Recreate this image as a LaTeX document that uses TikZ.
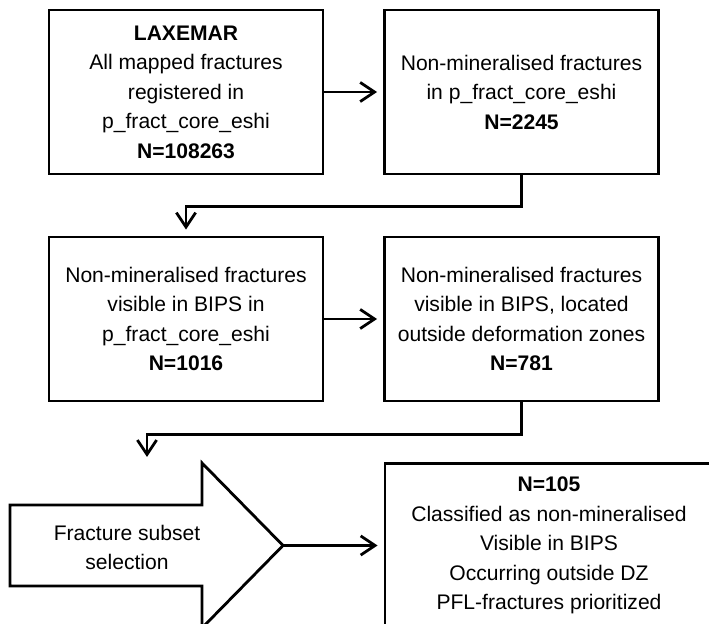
\documentclass[tikz,border=0pt]{standalone}
\usepackage{fontspec}
\setmainfont{Liberation Sans}
\usetikzlibrary{arrows.meta}

\begin{document}
\begin{tikzpicture}[
  box/.style={draw, line width=2pt, minimum width=6.85cm, minimum height=4.1cm,
    align=center, inner sep=0pt, font=\fontsize{15}{21}\selectfont},
  flow/.style={line width=2pt, -{Straight Barb[length=3.6mm,width=4.8mm]}, shorten >=1.5mm}
]
\clip (0,0) rectangle (17.725,15.6);

% Selection steps
\node[box] (lax) at (4.65,13.3) {\textbf{LAXEMAR}\\All mapped fractures\\registered in\\p\_fract\_core\_eshi\\\textbf{N=108263}};
\node[box] (nonmin) at (13.0375,13.3) {Non-mineralised fractures\\in p\_fract\_core\_eshi\\\textbf{N=2245}};
\node[box] (bips) at (4.65,7.625) {Non-mineralised fractures\\visible in BIPS in\\p\_fract\_core\_eshi\\\textbf{N=1016}};
\node[box] (outdz) at (13.0375,7.625) {Non-mineralised fractures\\visible in BIPS, located\\outside deformation zones\\\textbf{N=781}};

% Subset selection arrow
\draw[line width=2pt, fill=white] (0.25,0.95) -- (5.05,0.95) -- (5.05,-0.1) -- (7.075,1.9625)
  -- (5.05,4.025) -- (5.05,2.975) -- (0.25,2.975) -- cycle;
\node[align=center, font=\fontsize{15}{21}\selectfont] (sel) at (3.175,1.9125) {Fracture subset\\selection};
\coordinate (selin) at (3.675,4.025);
\coordinate (seltip) at (7.075,1.9625);

% Final subset
\node[box, minimum width=8.2cm] (final) at (13.725,1.9625) {\textbf{N=105}\\Classified as non-mineralised\\Visible in BIPS\\Occurring outside DZ\\PFL-fractures prioritized};

% Connections
\draw[flow] (lax.east) -- (nonmin.west);
\draw[flow] (nonmin.south) -- ++(0,-0.78) -| (bips.north);
\draw[flow] (bips.east) -- (outdz.west);
\draw[flow] (outdz.south) -- ++(0,-0.8) -| (selin);
\draw[flow] (seltip) -- (seltip -| final.west);
\end{tikzpicture}
\end{document}
